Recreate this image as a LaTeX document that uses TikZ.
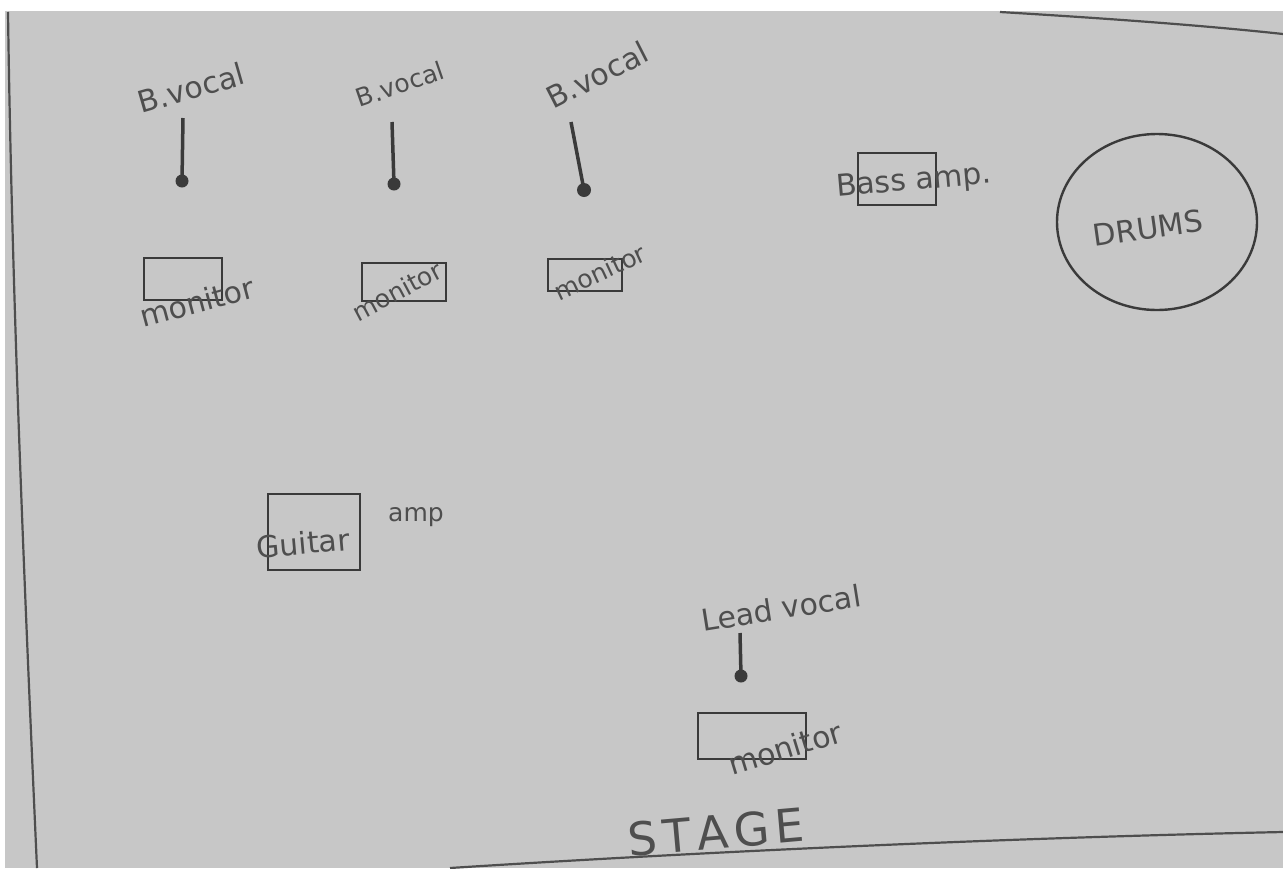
\documentclass[tikz,border=0pt]{standalone}
\usepackage{fontspec}
\setsansfont{DejaVu Sans}
\usetikzlibrary{shapes.geometric}
\definecolor{paper}{RGB}{199,199,199}
\definecolor{ink}{RGB}{58,58,58}
\definecolor{pencil}{RGB}{78,78,78}
\tikzset{
  hand/.style={font=\sffamily\fontsize{30}{34}\selectfont, text=pencil, inner sep=0pt},
  smallhand/.style={font=\sffamily\fontsize{25}{29}\selectfont, text=pencil, inner sep=0pt},
  box/.style={draw=ink, line width=2.8pt, rectangle, inner sep=0pt},
  micdot/.style={circle, fill=ink, draw=none, minimum size=13pt, inner sep=0pt},
  stem/.style={draw=ink, line width=3.5pt},
  edge/.style={draw=pencil, line width=2.2pt},
}
\begin{document}
\begin{tikzpicture}[x=1pt,y=-1pt]
\fill[white] (0,0) rectangle (1283,868);
\useasboundingbox (0,0) rectangle (1283,868);
\fill[paper] (5,11) -- (1283,11) -- (1283,868) -- (5,868) -- cycle;
% sheet edges
\coordinate (lt) at (8,12);
\coordinate (lb) at (37,868);
\coordinate (tl) at (1000,12);
\coordinate (tr) at (1283,34);
\coordinate (bl) at (450,868);
\coordinate (br) at (1283,832);
\draw[edge] (lt) .. controls (12,300) and (25,600) .. (lb);
\draw[edge] (tl) .. controls (1100,18) and (1200,25) .. (tr);
\draw[edge] (bl) .. controls (700,852) and (1000,838) .. (br);

% backing vocal mics
\node[hand, rotate=16] (bv1) at (191,88) {B.vocal};
\coordinate (m1t) at (183,118);
\node[micdot] (m1d) at (182,181) {};
\draw[stem] (m1t) -- (m1d.center);

\node[smallhand, rotate=19] (bv2) at (400,84) {B.vocal};
\coordinate (m2t) at (392,122);
\node[micdot] (m2d) at (394,184) {};
\draw[stem] (m2t) -- (m2d.center);

\node[hand, rotate=27] (bv3) at (597,75) {B.vocal};
\coordinate (m3t) at (571,122);
\node[micdot, minimum width=11pt, minimum height=14pt] (m3d) at (584,190) {};
\draw[stem] (m3t) -- (m3d.center);

% monitors
\node[box, minimum width=78pt, minimum height=42pt] (mon1) at (183,279) {};
\node[hand, rotate=15] (mon1t) at (197,302) {monitor};

\node[box, minimum width=84pt, minimum height=38pt] (mon2) at (404,282) {};
\node[smallhand, rotate=28] (mon2t) at (397,291) {monitor};

\node[box, minimum width=74pt, minimum height=32pt] (mon3) at (585,275) {};
\node[smallhand, rotate=25] (mon3t) at (600,272) {monitor};

% bass amp
\node[box, minimum width=78pt, minimum height=52pt] (bass) at (897,179) {};
\node[hand, rotate=5] (basst) at (914,182) {Bass amp.};

% drums
\node[draw=ink, line width=2.4pt, ellipse, minimum width=200pt, minimum height=176pt] (drums) at (1157,222) {};
\node[hand, rotate=8] (drumst) at (1148,228) {DRUMS};

% guitar amp
\node[box, minimum width=92pt, minimum height=76pt] (gtr) at (314,532) {};
\node[hand, rotate=5] (gtrt) at (303,543) {Guitar};
\node[smallhand] (ampt) at (416,517) {amp};

% lead vocal
\node[hand, rotate=9] (lv) at (781,608) {Lead vocal};
\coordinate (m4t) at (740,633);
\node[micdot] (m4d) at (741,676) {};
\draw[stem] (m4t) -- (m4d.center);

\node[box, minimum width=108pt, minimum height=46pt] (mon4) at (752,736) {};
\node[hand, rotate=17] (mon4t) at (785,748) {monitor};

% stage
\node[font=\sffamily\fontsize{46}{50}\selectfont, text=pencil, rotate=5, inner sep=0pt] (stage) at (716,832) {S\hspace{6pt}T\hspace{6pt}A\hspace{6pt}G\hspace{6pt}E};
\end{tikzpicture}
\end{document}
